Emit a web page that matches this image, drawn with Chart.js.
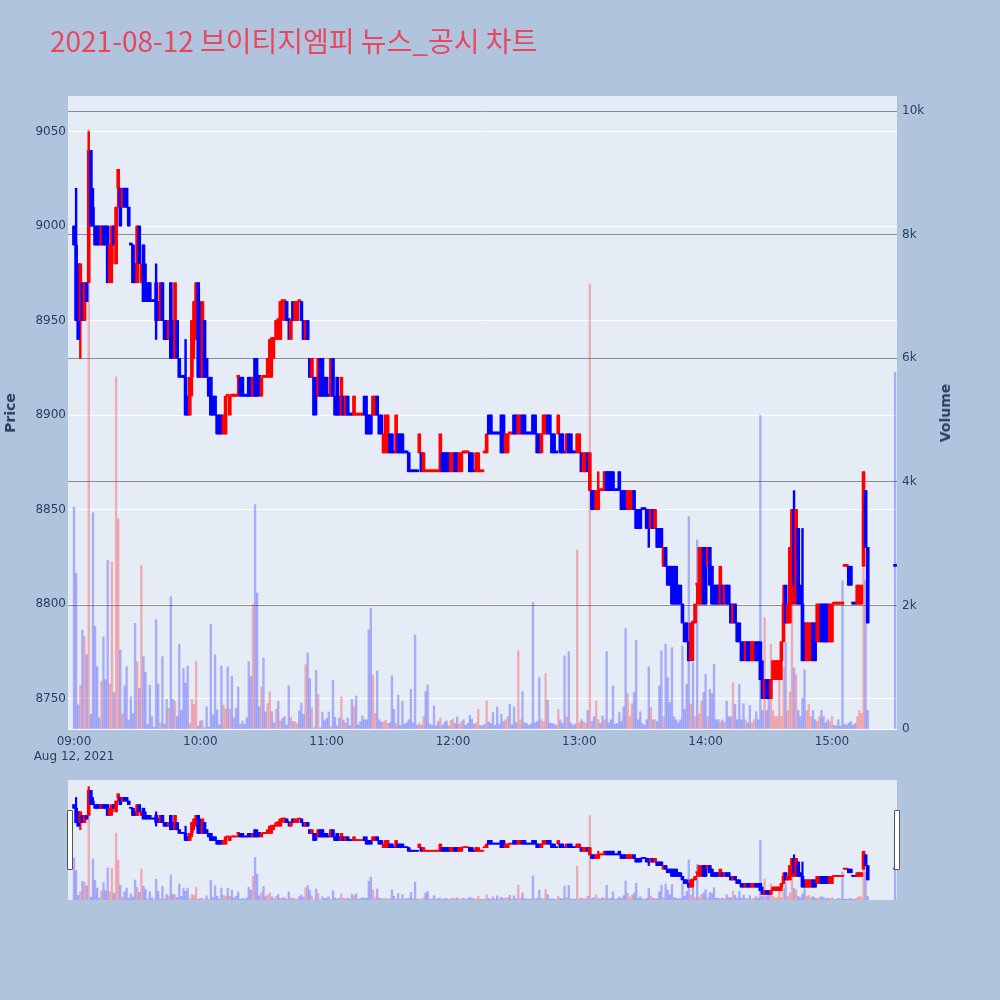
<!DOCTYPE html>
<html><head><meta charset="utf-8">
<script src="https://cdn.jsdelivr.net/npm/chart.js@4.4.1/dist/chart.umd.min.js"></script>
<style>
html,body{margin:0;padding:0;background:#B0C4DE;}
#wrap{position:relative;width:1000px;height:1000px;background:#B0C4DE;overflow:hidden;}
#title{position:absolute;left:50px;top:20px;font-size:28px;font-family:'Noto Sans CJK KR','Noto Sans',sans-serif;color:#E9475E;white-space:nowrap;line-height:40px;}
.axt{position:absolute;font-family:'DejaVu Sans',sans-serif;font-size:14px;font-weight:bold;color:#2a3f5f;white-space:nowrap;transform:translate(-50%,-50%) rotate(-90deg);}
#main{position:absolute;left:0;top:0;}
#slider{position:absolute;left:68px;top:780px;}
.handle{position:absolute;width:4px;height:58px;background:#fff;border:1px solid #555;border-radius:1px;}
</style></head>
<body><div id="wrap">
<canvas id="main" width="1000" height="1000"></canvas>
<canvas id="slider" width="829" height="120"></canvas>
<div class="handle" style="left:67px;top:810px;"></div>
<div class="handle" style="left:894px;top:810px;"></div>
<div id="title">2021-08-12 브이티지엠피 뉴스_공시 차트</div>
<div class="axt" style="left:10px;top:413px;">Price</div>
<div class="axt" style="left:945px;top:413px;">Volume</div>
</div>
<script>
// index = minutes after 09:00
const opens = [
9000,8990,8980,8950,8970,8950,8970,8970,9040,9010,
9000,9000,9000,8990,9000,9000,9000,8970,8980,9000,
8980,9020,9020,9010,9020,9020,9010,8990,8990,8980,
8970,9000,8970,8990,8970,8970,8970,8960,8960,8970,
8960,8950,8970,8950,8950,8940,8970,8950,8930,8950,
8930,8920,8920,8920,8910,8900,8920,8940,8950,8970,
8950,8920,8950,8930,8920,8920,8910,8910,8900,8900,
8900,8890,8890,8910,8900,8910,8910,8910,8920,8920,
8920,8910,8910,8920,8920,8910,8930,8920,8920,8910,
8920,8920,8920,8920,8940,8940,8940,8950,8940,8960,
8960,8960,8950,8940,8960,8950,8950,8960,8960,8950,
8940,8950,8930,8920,8920,8920,8910,8930,8930,8920,
8920,8910,8910,8930,8910,8920,8910,8900,8910,8900,
8910,8900,8900,8900,8900,8900,8900,8900,8910,8900,
8900,8900,8900,8900,8910,8900,8900,8880,8880,8880,
8890,8890,8880,8880,8890,8890,8890,8880,8880,8880,
8870,8870,8870,8870,8880,8880,8870,8870,8870,8870,
8870,8870,8870,8870,8870,8880,8880,8880,8880,8870,
8870,8880,8880,8870,8870,8880,8880,8880,8880,8880,
8870,8870,8870,8870,8870,8880,8880,8900,8900,8890,
8890,8890,8890,8900,8900,8880,8880,8890,8890,8900,
8900,8890,8890,8900,8900,8890,8890,8890,8900,8900,
8890,8890,8880,8890,8890,8900,8900,8890,8890,8880,
8890,8890,8890,8880,8880,8890,8890,8880,8880,8880,
8880,8880,8870,8870,8880,8860,8860,8860,8850,8850,
8860,8860,8860,8870,8870,8870,8870,8860,8860,8870,
8860,8860,8860,8850,8850,8850,8860,8850,8850,8850,
8850,8850,8850,8850,8840,8850,8840,8840,8840,8840,
8820,8830,8820,8820,8820,8820,8820,8810,8810,8800,
8790,8790,8780,8770,8790,8790,8810,8800,8800,8830,
8830,8820,8830,8820,8810,8810,8810,8800,8810,8800,
8810,8810,8800,8790,8800,8790,8790,8780,8780,8770,
8780,8780,8770,8770,8780,8780,8780,8760,8750,8760,
8760,8750,8760,8760,8760,8760,8770,8780,8810,8790,
8790,8800,8850,8800,8840,8810,8800,8790,8770,8770,
8770,8790,8790,8780,8780,8800,8800,8800,8800,8780,
8780,8800,8800,8800,8800,8800,8820,8820,8820,8820,
8800,8800,8800,8800,8800,8820,8860,8830,null,null,
null,null,null,null,null,null,null,null,null,null,
8820];
const highs = [
9000,9020,8980,8980,8970,8970,8970,9050,9040,9020,
9000,9000,9000,9000,9000,9000,9000,8990,9000,9000,
9010,9030,9020,9020,9020,9020,9010,8990,8990,8980,
9000,9000,8980,8990,8980,8970,8970,8960,8960,8980,
8960,8970,8970,8950,8950,8950,8970,8950,8970,8950,
8930,8920,8920,8940,8910,8920,8950,8960,8970,8970,
8960,8960,8950,8930,8920,8920,8910,8910,8900,8900,
8900,8900,8910,8910,8910,8910,8910,8910,8920,8920,
8920,8910,8910,8920,8920,8920,8930,8930,8920,8920,
8920,8920,8930,8940,8940,8940,8950,8950,8960,8960,
8960,8960,8950,8950,8960,8960,8960,8960,8960,8950,
8950,8950,8930,8930,8920,8920,8930,8930,8930,8920,
8920,8910,8930,8930,8910,8920,8910,8920,8910,8910,
8910,8900,8900,8910,8900,8900,8900,8900,8910,8910,
8900,8900,8910,8910,8910,8900,8900,8890,8900,8900,
8890,8890,8880,8900,8890,8890,8890,8880,8880,8880,
8870,8870,8870,8870,8890,8880,8880,8870,8870,8870,
8870,8870,8870,8870,8890,8880,8880,8880,8880,8880,
8880,8880,8880,8880,8880,8880,8880,8880,8880,8880,
8870,8880,8880,8870,8870,8880,8890,8900,8900,8890,
8890,8890,8890,8900,8900,8890,8890,8890,8890,8900,
8900,8900,8900,8900,8900,8890,8890,8890,8900,8900,
8890,8890,8890,8900,8900,8900,8900,8890,8890,8880,
8900,8890,8890,8880,8890,8890,8890,8880,8880,8890,
8890,8880,8880,8880,8880,8880,8860,8860,8860,8870,
8860,8860,8870,8870,8870,8870,8870,8860,8860,8870,
8860,8860,8860,8860,8860,8860,8860,8850,8850,8850,
8850,8850,8850,8850,8850,8850,8850,8840,8840,8840,
8830,8830,8820,8820,8820,8820,8820,8810,8810,8800,
8790,8790,8780,8790,8790,8800,8810,8830,8830,8830,
8830,8830,8830,8820,8810,8810,8810,8820,8810,8810,
8810,8810,8800,8800,8800,8790,8790,8780,8780,8780,
8780,8780,8780,8780,8780,8780,8780,8770,8760,8760,
8760,8760,8770,8770,8770,8770,8780,8810,8810,8800,
8830,8850,8860,8850,8840,8810,8840,8790,8790,8790,
8790,8790,8790,8800,8800,8800,8800,8800,8800,8800,
8800,8800,8800,8800,8800,8800,8820,8820,8820,8820,
8800,8800,8810,8810,8810,8870,8860,8830,null,null,
null,null,null,null,null,null,null,null,null,null,
8820];
const lows = [
8990,8950,8940,8930,8950,8950,8960,8970,9000,9000,
8990,8990,8990,8990,8990,8990,8970,8970,8970,8990,
8980,9010,9000,9010,9010,9010,9000,8990,8970,8970,
8970,8980,8970,8960,8960,8960,8960,8960,8960,8940,
8950,8950,8950,8940,8940,8940,8930,8930,8930,8930,
8920,8920,8920,8900,8900,8900,8910,8930,8940,8920,
8920,8920,8920,8920,8910,8900,8900,8900,8890,8890,
8890,8890,8890,8910,8900,8910,8910,8910,8910,8910,
8910,8910,8910,8910,8910,8910,8910,8910,8910,8910,
8920,8920,8920,8920,8920,8930,8940,8940,8940,8950,
8950,8950,8940,8940,8950,8950,8950,8960,8950,8940,
8940,8940,8920,8920,8900,8900,8910,8910,8910,8910,
8910,8910,8910,8910,8900,8900,8900,8900,8900,8900,
8900,8900,8900,8900,8900,8900,8900,8900,8900,8890,
8890,8890,8900,8900,8900,8890,8890,8880,8880,8880,
8880,8880,8880,8880,8880,8880,8880,8880,8880,8870,
8870,8870,8870,8870,8880,8870,8870,8870,8870,8870,
8870,8870,8870,8870,8870,8870,8870,8870,8870,8870,
8870,8870,8870,8870,8870,8880,8880,8880,8870,8870,
8870,8870,8870,8870,8870,8880,8880,8890,8890,8890,
8890,8890,8890,8880,8880,8880,8880,8890,8890,8890,
8890,8890,8890,8890,8890,8890,8890,8890,8890,8890,
8880,8880,8880,8890,8890,8890,8890,8880,8880,8880,
8890,8880,8880,8880,8880,8880,8880,8880,8880,8880,
8880,8870,8870,8870,8870,8860,8850,8850,8850,8850,
8860,8860,8860,8860,8860,8860,8860,8860,8860,8860,
8850,8850,8850,8850,8850,8850,8850,8840,8840,8840,
8850,8850,8840,8830,8840,8840,8840,8830,8830,8830,
8820,8820,8810,8810,8800,8800,8800,8800,8800,8790,
8780,8780,8770,8770,8770,8790,8800,8800,8800,8800,
8800,8820,8810,8800,8800,8800,8800,8800,8800,8800,
8800,8800,8790,8790,8790,8780,8780,8770,8770,8770,
8770,8770,8770,8770,8770,8770,8760,8750,8750,8750,
8750,8750,8760,8760,8760,8760,8760,8780,8790,8790,
8790,8800,8800,8800,8800,8800,8770,8770,8770,8770,
8770,8770,8770,8780,8780,8780,8780,8780,8780,8780,
8780,8800,8800,8800,8800,8800,8820,8820,8810,8810,
8800,8800,8800,8800,8800,8820,8830,8790,null,null,
null,null,null,null,null,null,null,null,null,null,
8820];
const closes = [
8990,8950,8940,8980,8950,8970,8960,9040,9000,9000,
8990,8990,8990,9000,8990,8990,8970,8990,9000,8990,
9010,9030,9000,9020,9010,9010,9000,8990,8970,8970,
9000,8980,8980,8960,8960,8960,8960,8960,8960,8950,
8950,8970,8950,8940,8940,8950,8930,8940,8970,8930,
8920,8920,8920,8900,8900,8920,8950,8960,8970,8920,
8920,8960,8920,8920,8910,8900,8900,8900,8890,8890,
8890,8900,8910,8910,8910,8910,8910,8910,8920,8910,
8910,8910,8910,8910,8910,8920,8910,8910,8920,8920,
8920,8920,8930,8940,8940,8940,8950,8950,8960,8960,
8960,8950,8950,8950,8950,8960,8960,8960,8950,8940,
8950,8940,8920,8930,8900,8910,8930,8910,8910,8910,
8910,8910,8930,8910,8900,8900,8900,8920,8900,8910,
8900,8900,8900,8910,8900,8900,8900,8900,8900,8890,
8890,8890,8910,8910,8900,8890,8890,8890,8900,8900,
8880,8880,8880,8900,8880,8880,8880,8880,8880,8870,
8870,8870,8870,8870,8890,8870,8880,8870,8870,8870,
8870,8870,8870,8870,8890,8870,8870,8870,8870,8880,
8880,8870,8870,8880,8880,8880,8880,8880,8870,8870,
8870,8880,8880,8870,8870,8880,8890,8890,8890,8890,
8890,8890,8890,8880,8880,8890,8890,8890,8890,8890,
8890,8900,8900,8890,8890,8890,8890,8890,8890,8890,
8880,8880,8890,8900,8900,8890,8890,8880,8880,8880,
8900,8880,8880,8880,8890,8880,8880,8880,8880,8890,
8890,8870,8880,8880,8870,8880,8850,8850,8860,8860,
8860,8860,8870,8860,8860,8860,8860,8860,8860,8860,
8850,8850,8850,8860,8860,8860,8850,8840,8840,8840,
8850,8850,8840,8840,8850,8840,8850,8830,8830,8830,
8830,8820,8810,8810,8800,8800,8800,8800,8800,8790,
8780,8780,8770,8790,8790,8800,8810,8830,8820,8800,
8800,8830,8810,8800,8800,8800,8800,8820,8800,8810,
8800,8800,8790,8800,8790,8780,8780,8770,8770,8780,
8770,8770,8780,8780,8770,8770,8760,8750,8760,8750,
8750,8760,8770,8770,8770,8770,8780,8800,8790,8800,
8830,8850,8810,8850,8800,8800,8770,8770,8790,8790,
8790,8770,8770,8800,8800,8780,8780,8780,8780,8800,
8800,8800,8800,8800,8800,8800,8820,8820,8810,8810,
8800,8800,8810,8810,8810,8870,8830,8790,null,null,
null,null,null,null,null,null,null,null,null,null,
8820];
const volumes = [
3590,2520,390,710,1600,1500,1200,9700,240,3500,
1660,1010,180,770,1490,800,2730,730,2700,590,
5700,3400,1280,240,700,1010,145,520,250,1710,
1090,660,2650,1170,920,80,710,200,30,1770,
730,100,1170,80,480,335,2140,480,450,200,
1370,300,980,740,1020,90,480,400,1090,50,
130,145,20,360,30,1690,230,1200,310,65,
1020,390,320,1005,320,850,180,335,680,75,
130,75,180,1090,850,2020,3630,2200,360,680,
1150,280,415,600,280,100,320,450,130,170,
200,65,700,190,120,120,85,290,420,240,
1040,1230,815,345,20,950,560,20,275,130,
170,275,40,790,190,50,180,520,145,100,
180,50,480,360,535,65,120,210,150,150,
1605,1956,875,250,940,150,110,120,140,90,
100,860,320,90,545,60,454,80,100,150,
643,100,1519,60,90,60,200,605,713,80,
60,375,50,120,180,60,110,130,50,140,
160,90,200,80,120,150,60,90,220,157,
80,100,319,60,50,80,454,120,90,265,
60,357,80,238,120,150,200,400,70,357,
100,1264,150,605,100,90,60,80,2048,100,
120,832,150,120,897,465,100,90,80,60,
319,150,90,1183,200,1253,100,60,80,2896,
100,150,120,90,300,7200,120,200,454,150,
90,211,150,1253,100,150,697,80,90,265,
120,357,1626,573,200,410,589,1437,150,281,
90,60,150,1010,346,150,150,120,697,1264,
200,1373,832,427,1318,200,150,100,150,1345,
319,724,3437,400,1075,200,3059,250,454,589,
886,200,643,573,1048,150,150,120,150,110,
450,200,200,750,400,150,724,150,410,150,
100,380,100,150,280,150,5074,300,1800,300,
562,1373,300,200,200,940,200,1000,1400,300,
600,2100,990,880,300,200,500,960,300,400,
200,300,150,120,200,300,200,100,150,120,
200,60,50,150,50,2400,80,60,100,120,
60,90,200,300,250,2600,2400,300,null,null,
null,null,null,null,null,null,null,null,null,null,
5770];

const xTickMinutes = [0, 60, 120, 180, 240, 300, 360];
const xTickLabels = [['09:00', 'Aug 12, 2021'], '10:00', '11:00', '12:00', '13:00', '14:00', '15:00'];
const priceTicks = [8750, 8800, 8850, 8900, 8950, 9000, 9050];
const volumeTicks = [0, 2000, 4000, 6000, 8000, 10000];
const volumeTickLabels = ['0', '2k', '4k', '6k', '8k', '10k'];

const X_MIN = -2.85, X_MAX = 390.9;
const P_MIN = 8733.9, P_MAX = 9068.8;
const V_MIN = 0, V_MAX = 10243;

// candle direction: close vs open, a flat candle keeps the previous direction
const up = [];
{
  let inc = true;
  for (let i = 0; i < opens.length; i++) {
    const o = opens[i], c = closes[i];
    if (o == null) { up.push(null); continue; }
    if (c !== o) inc = c > o;
    up.push(inc);
  }
}
const wickPts = [], bodyPts = [], volPts = [], cCol = [], vCol = [];
for (let i = 0; i < opens.length; i++) {
  if (opens[i] == null) continue;
  const o = opens[i], c = closes[i];
  wickPts.push({x: i, y: [lows[i], highs[i]]});
  bodyPts.push({x: i, y: [Math.min(o, c), Math.max(o, c)]});
  cCol.push(up[i] ? '#FF0000' : '#0000FF');
  volPts.push({x: i, y: volumes[i]});
  vCol.push(c > o ? 'rgba(255,0,0,0.27)' : 'rgba(0,0,255,0.27)');
}

function makeDatasets(bodyW, wickW, volW, minLen) {
  return [
    {type: 'bar', data: bodyPts, yAxisID: 'y', backgroundColor: cCol, barThickness: bodyW,
     minBarLength: minLen, grouped: false, order: 1, borderWidth: 0},
    {type: 'bar', data: wickPts, yAxisID: 'y', backgroundColor: cCol, barThickness: wickW,
     grouped: false, order: 2, borderWidth: 0},
    {type: 'bar', data: volPts, yAxisID: 'yv', backgroundColor: vCol, barThickness: volW,
     grouped: false, order: 3, borderWidth: 0}
  ];
}

const plotBg = {
  id: 'plotBg',
  beforeDraw(chart) {
    const {ctx, chartArea: a} = chart;
    ctx.save();
    ctx.fillStyle = '#E5ECF6';
    ctx.fillRect(a.left, a.top, a.right - a.left, a.bottom - a.top);
    ctx.restore();
  }
};

const tickFont = {family: "'DejaVu Sans', sans-serif", size: 12};
const tickColor = '#2a3f5f';

new Chart(document.getElementById('main'), {
  type: 'bar',
  data: {datasets: makeDatasets(3, 1.8, 1.7, 2)},
  plugins: [plotBg],
  options: {
    responsive: false, animation: false, devicePixelRatio: 1,
    layout: {padding: {top: 96, left: 0, right: 0, bottom: 0}},
    plugins: {legend: {display: false}, tooltip: {enabled: false}},
    scales: {
      x: {
        type: 'linear', position: 'bottom', min: X_MIN, max: X_MAX, offset: false,
        grid: {display: false, drawTicks: false}, border: {display: false},
        afterBuildTicks: s => { s.ticks = xTickMinutes.map(v => ({value: v})); },
        afterFit: s => { s.height = 271; },
        ticks: {autoSkip: false, maxRotation: 0, padding: 6, font: tickFont, color: tickColor,
          callback: v => { const k = xTickMinutes.indexOf(v); return k >= 0 ? xTickLabels[k] : ''; }}
      },
      y: {
        type: 'linear', position: 'left', min: P_MIN, max: P_MAX,
        grid: {color: '#ffffff', lineWidth: 1, drawTicks: false}, border: {display: false},
        afterBuildTicks: s => { s.ticks = priceTicks.map(v => ({value: v})); },
        afterFit: s => { s.width = 68; },
        ticks: {padding: 2, font: tickFont, color: tickColor, callback: v => String(v)}
      },
      yv: {
        type: 'linear', position: 'right', min: V_MIN, max: V_MAX,
        grid: {color: c => (c.tick && c.tick.value === 0 ? '#ffffff' : '#8c8c8c'), lineWidth: 1, drawTicks: false},
        border: {display: false},
        afterBuildTicks: s => { s.ticks = volumeTicks.map(v => ({value: v})); },
        afterFit: s => { s.width = 103; },
        ticks: {padding: 5, font: tickFont, color: tickColor,
          callback: v => { const k = volumeTicks.indexOf(v); return k >= 0 ? volumeTickLabels[k] : ''; }}
      }
    }
  }
});

new Chart(document.getElementById('slider'), {
  type: 'bar',
  data: {datasets: makeDatasets(3, 1.5, 1.7, 1)},
  plugins: [plotBg],
  options: {
    responsive: false, animation: false, devicePixelRatio: 1,
    layout: {padding: 0},
    plugins: {legend: {display: false}, tooltip: {enabled: false}},
    scales: {
      x: {type: 'linear', min: X_MIN, max: X_MAX, offset: false, display: false},
      y: {type: 'linear', min: P_MIN, max: P_MAX, display: false},
      yv: {type: 'linear', position: 'right', min: V_MIN, max: V_MAX, display: false}
    }
  }
});
</script>
</body></html>
